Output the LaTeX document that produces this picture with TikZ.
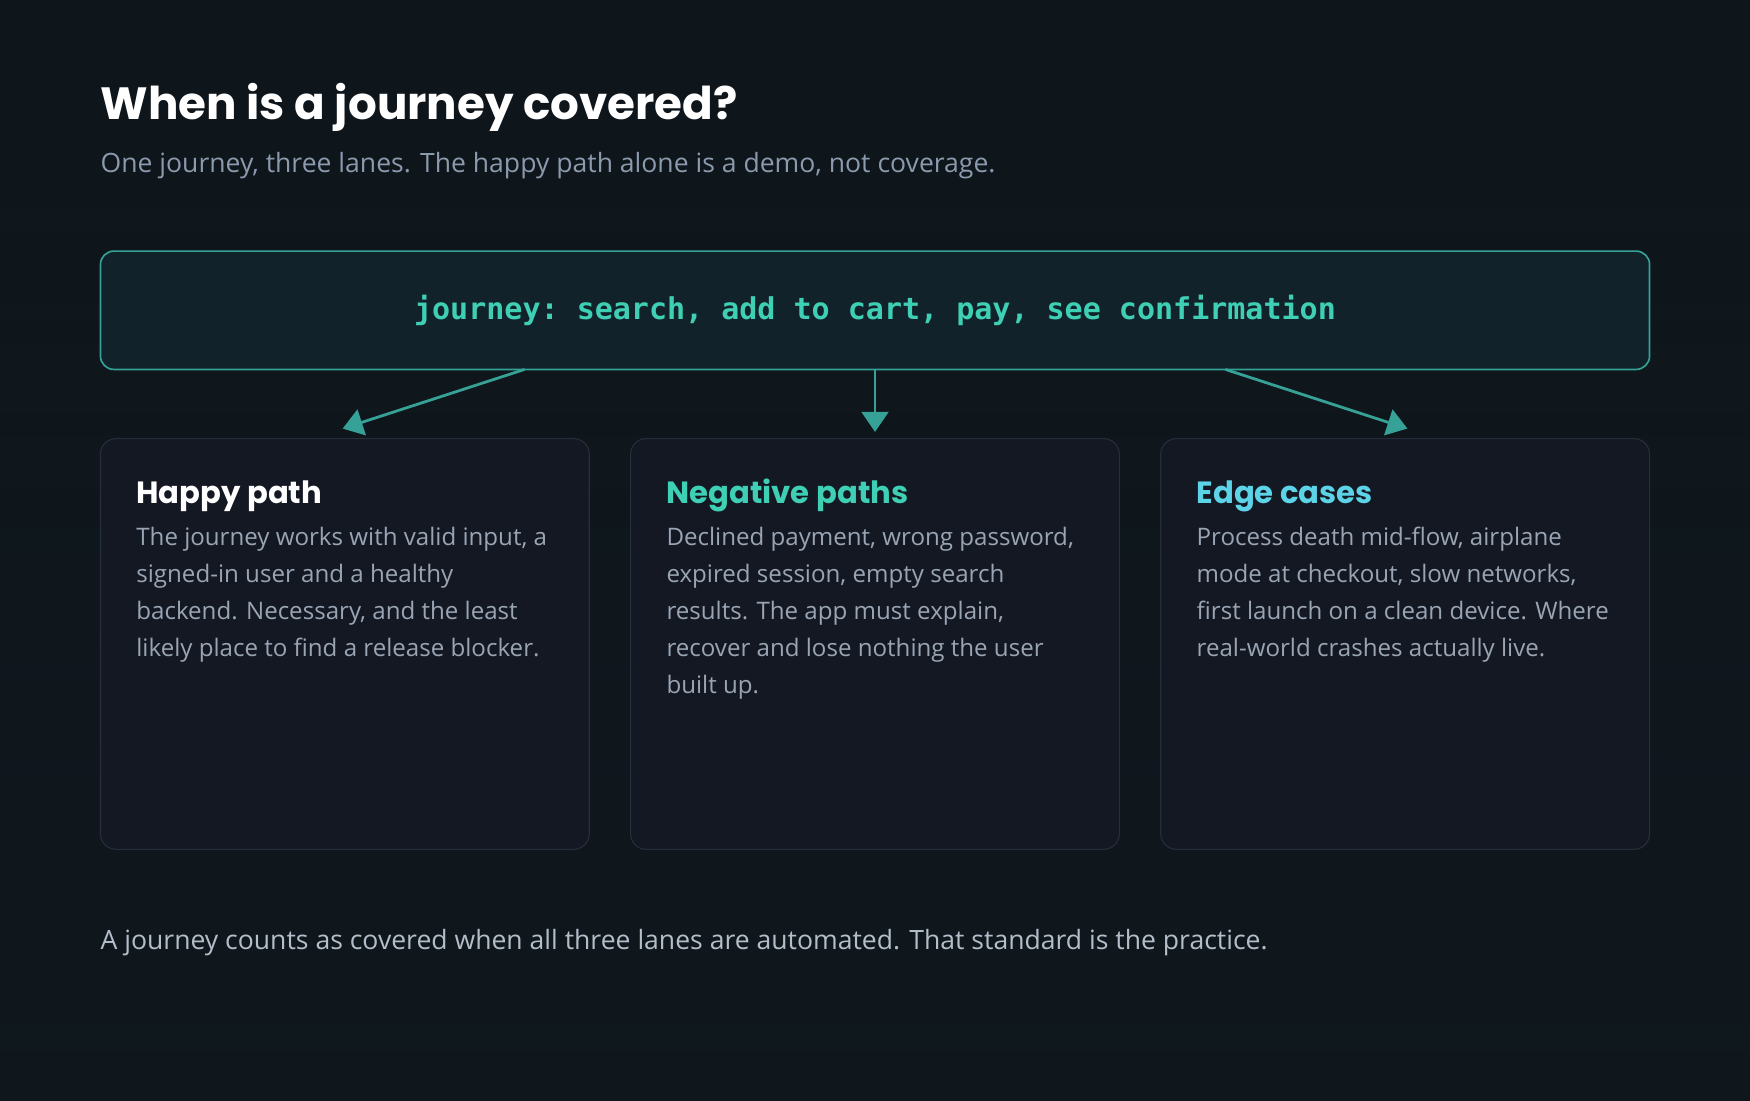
\documentclass[tikz,border=0pt]{standalone}
\usepackage{fontspec}
\setmainfont{Open Sans}
\newfontfamily\titlefont{Poppins}
\setmonofont{DejaVu Sans Mono}
\usetikzlibrary{arrows.meta}
\definecolor{bgL}{HTML}{0C0F14}
\definecolor{bgR}{HTML}{15252C}
\definecolor{teal}{HTML}{3ECFB4}
\definecolor{tealline}{HTML}{36A196}
\definecolor{boxfill}{HTML}{12222A}
\definecolor{cardfill}{HTML}{141823}
\definecolor{cardline}{HTML}{272D3A}
\definecolor{muted}{HTML}{8C9AAE}
\definecolor{body}{HTML}{9AA5B4}
\definecolor{cyanh}{HTML}{5CD3E6}
\definecolor{foot}{HTML}{B4BEC9}
\tikzset{
 card/.style={draw=cardline,line width=1pt,fill=cardfill,rounded corners=14pt},
 head/.style={anchor=base west,inner sep=0pt,font=\fontsize{27.5}{30}\selectfont\titlefont\bfseries},
 txt/.style={anchor=base west,inner sep=0pt,text=body,font=\fontsize{21.6}{24}\selectfont},
 arr/.style={draw=tealline,line width=2.5pt,-{Triangle[length=18pt,width=24pt]}}
}
\begin{document}
\begin{tikzpicture}[x=1pt,y=-1pt]
\shade[left color=bgL,right color=bgR,shading angle=0] (0,0) rectangle (1568,986);
\shade[top color=bgR!50!bgL,bottom color=bgL,opacity=0.6] (0,0) rectangle (1568,986);
\useasboundingbox (0,0) rectangle (1568,986);
\node[anchor=base west,inner sep=0pt,text=white,font=\fontsize{40.5}{44}\selectfont\titlefont\bfseries] (title) at (90,107) {When is a journey covered?};
\node[anchor=base west,inner sep=0pt,text=muted,font=\fontsize{23.8}{26}\selectfont] (sub) at (90,155) {One journey, three lanes. The happy path alone is a demo, not coverage.};
\draw[draw=tealline,line width=1.5pt,fill=boxfill,rounded corners=12pt] (90,225) rectangle (1478,331);
\node[inner sep=0pt,text=teal,font=\fontsize{26.9}{30}\selectfont\ttfamily\bfseries] (journey) at (784,278) {journey: search, add to cart, pay, see confirmation};
\coordinate (s1) at (470,331); \coordinate (e1) at (307,384);
\coordinate (s2) at (784,331); \coordinate (e2) at (784,387);
\coordinate (s3) at (1098,331); \coordinate (e3) at (1261,384);
\draw[arr] (s1) -- (e1);
\draw[arr] (s2) -- (e2);
\draw[arr] (s3) -- (e3);
\draw[card] (90,393) rectangle (528,761);
\draw[card] (565,393) rectangle (1003,761);
\draw[card] (1040,393) rectangle (1478,761);
\node[head,text=white] (h1) at (122,451) {Happy path};
\node[head,text=teal] (h2) at (597,451) {Negative paths};
\node[head,text=cyanh] (h3) at (1072,451) {Edge cases};
\node[txt] (a1) at (122,489) {The journey works with valid input, a};
\node[txt] (a2) at (122,522) {signed-in user and a healthy};
\node[txt] (a3) at (122,555) {backend. Necessary, and the least};
\node[txt] (a4) at (122,588) {likely place to find a release blocker.};
\node[txt] (b1) at (597,489) {Declined payment, wrong password,};
\node[txt] (b2) at (597,522) {expired session, empty search};
\node[txt] (b3) at (597,555) {results. The app must explain,};
\node[txt] (b4) at (597,588) {recover and lose nothing the user};
\node[txt] (b5) at (597,621) {built up.};
\node[txt] (c1) at (1072,489) {Process death mid-flow, airplane};
\node[txt] (c2) at (1072,522) {mode at checkout, slow networks,};
\node[txt] (c3) at (1072,555) {first launch on a clean device. Where};
\node[txt] (c4) at (1072,588) {real-world crashes actually live.};
\node[anchor=base west,inner sep=0pt,text=foot,font=\fontsize{23.8}{26}\selectfont] (foot) at (90,851) {A journey counts as covered when all three lanes are automated. That standard is the practice.};
\end{tikzpicture}
\end{document}
